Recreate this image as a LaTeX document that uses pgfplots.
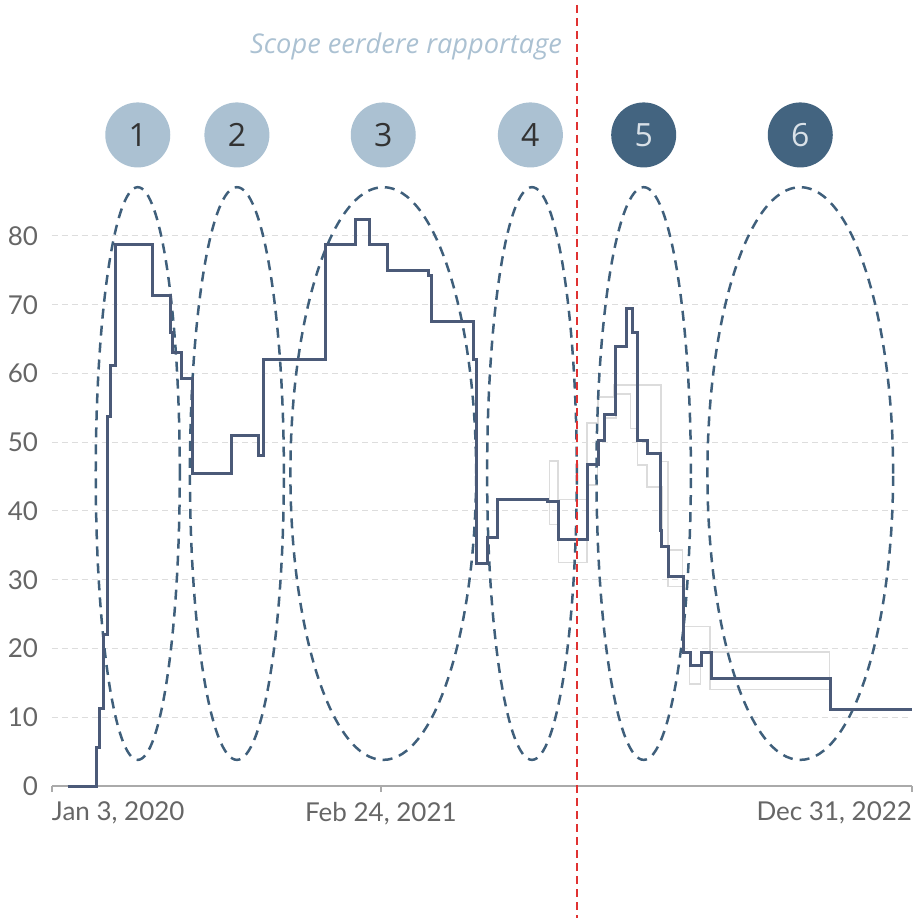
\documentclass[border=0pt]{standalone}
\usepackage{fontspec}
\setmainfont{Lato}
\newfontfamily\osans{Open Sans}
\usepackage{pgfplots}
\pgfplotsset{compat=1.18}

\definecolor{mainline}{HTML}{4B5A78}
\definecolor{ellcol}{HTML}{3F5F7B}
\definecolor{lightc}{HTML}{ABC1D2}
\definecolor{darkc}{HTML}{436480}
\definecolor{gridc}{HTML}{DDDDDD}
\definecolor{othr}{HTML}{DCDCDC}
\definecolor{tickc}{HTML}{666666}
\definecolor{axc}{HTML}{AAAAAA}
\definecolor{redl}{HTML}{E03232}
\definecolor{numdark}{HTML}{333333}
\definecolor{numlight}{HTML}{D9E1E8}

\begin{document}
\begin{tikzpicture}
\path[use as bounding box] (-26pt,-67pt) rectangle (432.5pt,393pt);
\begin{axis}[
  at={(0,0)}, anchor=south west,
  scale only axis, width=430pt, height=275pt,
  xmin=0, xmax=1093, ymin=0, ymax=80,
  clip=false,
  axis x line=bottom, axis y line=left,
  axis line style={-},
  y axis line style={draw=none},
  x axis line style={draw=axc, line width=0.8pt},
  ytick={0,10,...,80},
  ytick style={draw=none},
  xtick={0,418,1093},
  xticklabels={{\makebox[0pt][l]{Jan 3, 2020}},{Feb 24, 2021},{\makebox[0pt][r]{Dec 31, 2022}}},
  xtick style={draw=axc, line width=0.8pt},
  tick align=outside, major tick length=3pt,
  ymajorgrids,
  grid style={gridc, dash pattern=on 3pt off 2pt, line width=0.5pt},
  tick label style={font=\fontsize{13}{14}\selectfont, text=tickc},
  x tick label style={yshift=-1.5pt},
  y tick label style={xshift=-0.5pt},
  /pgf/number format/assume math mode=true,
]
% other scenarios (light grey)
\addplot[othr, line width=0.75pt, const plot] coordinates {
  (620,41.7) (632,47.3) (643,41.7) (680,52.8) (694,56.6) (714,58.3)
  (774,47.2) (783,34.3) (801,23.2) (836,19.5) (988,15.7)
};
\addplot[othr, line width=0.75pt, const plot] coordinates {
  (620,41.7) (632,38.0) (644,32.5) (680,43.8) (693,50.3) (703,53.5)
  (717,57.0) (735,52.0) (744,46.7) (756,43.5) (775,35.0) (783,29.0)
  (801,19.5) (810,14.8) (824,19.5) (836,14.0) (988,11.15)
};
% ellipses
\begin{scope}[ellcol, line width=1.25pt, dash pattern=on 5pt off 3.5pt]
\draw (axis cs:109,45.45) ellipse [x radius=53.4, y radius=41.65];
\draw (axis cs:235,45.45) ellipse [x radius=59.7, y radius=41.65];
\draw (axis cs:421,45.45) ellipse [x radius=118, y radius=41.65];
\draw (axis cs:610,45.45) ellipse [x radius=57, y radius=41.65];
\draw (axis cs:752,45.45) ellipse [x radius=60, y radius=41.65];
\draw (axis cs:951,45.45) ellipse [x radius=118, y radius=41.65];
\end{scope}
% main series
\addplot[mainline, line width=1.5pt, const plot] coordinates {
  (20,0) (56,5.6) (61,11.2) (66,22) (70,53.8) (74,61.1) (81,78.7)
  (128,71.3) (150,66) (153,63.0) (165,59.2) (179,45.4) (228,51.0)
  (262,48.1) (269,62.1) (347,78.8) (386,82.4) (403,78.8) (426,75.05)
  (479,74.3) (482,67.6) (536,62) (540,32.4) (554,36.2) (566,41.7)
  (630,41.4) (644,35.8) (680,46.8) (694,50.3) (702,54.1) (716,63.9)
  (730,69.5) (738,65.9) (744,50.2) (757,48.4) (773,37.2) (775,34.8)
  (784,30.5) (802,19.4) (811,17.5) (825,19.4) (838,15.7) (989,11.15)
  (1093,11.15)
};
% numbered circles
\begin{scope}[every node/.style={circle, inner sep=0pt, minimum size=32.5pt,
    font=\osans\fontsize{16}{16}\selectfont}]
\node[fill=lightc, text=numdark] at (axis cs:109,94.7) {1};
\node[fill=lightc, text=numdark] at (axis cs:235,94.7) {2};
\node[fill=lightc, text=numdark] at (axis cs:421,94.7) {3};
\node[fill=lightc, text=numdark] at (axis cs:608,94.7) {4};
\node[fill=darkc, text=numlight] at (axis cs:752,94.7) {5};
\node[fill=darkc, text=numlight] at (axis cs:951,94.7) {6};
\end{scope}
\node[font=\osans\itshape\fontsize{13.6}{14}\selectfont, text=lightc]
  at (axis cs:450,107.6) {Scope eerdere rapportage};
% cut-off line
\draw[redl, line width=1.1pt, dash pattern=on 4pt off 2.5pt]
  (axis cs:667,113.6) -- (axis cs:667,-19.2);
\end{axis}
\end{tikzpicture}
\end{document}
